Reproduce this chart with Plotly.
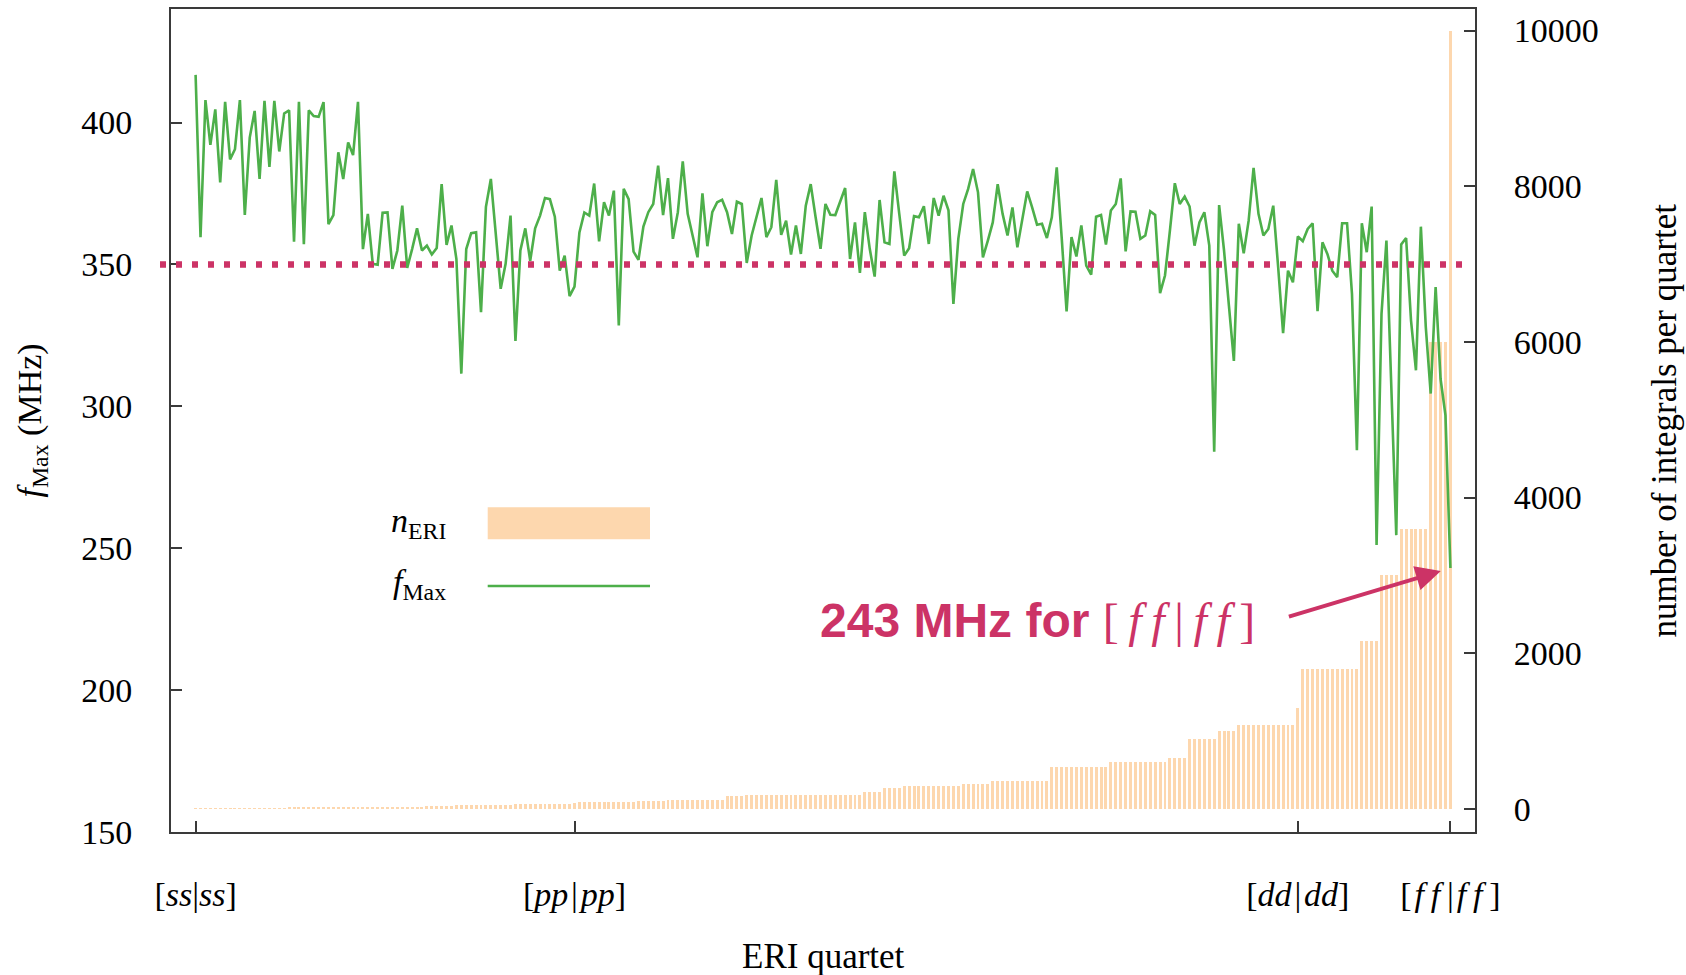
import numpy as np
import plotly.graph_objects as go

# ---- data ----
f_max = [
    416.8, 359.6, 407.9, 392.1, 404.6, 378.9, 407.3, 387.0, 390.6, 407.9,
    367.4, 394.7, 404.1, 380.1, 407.6, 384.4, 407.6, 389.8, 403.2, 404.3,
    358.0, 407.3, 357.1, 404.3, 402.3, 402.0, 407.2, 364.2, 367.4, 389.5,
    380.1, 393.0, 388.5, 407.3, 355.4, 367.8, 350.2, 349.9, 368.2, 368.3,
    348.4, 354.9, 370.7, 348.8, 355.4, 362.7, 354.9, 356.6, 353.5, 355.8,
    378.3, 356.9, 363.7, 351.9, 311.5, 355.4, 361.0, 361.3, 333.2, 370.3,
    380.1, 360.7, 341.4, 350.2, 367.2, 323.0, 354.9, 362.7, 351.3, 362.7,
    367.2, 373.4, 373.0, 366.8, 347.8, 353.1, 338.8, 342.2, 361.3, 368.3,
    367.2, 378.5, 358.1, 371.9, 367.2, 376.0, 328.5, 376.6, 373.0, 354.5,
    351.6, 363.3, 368.4, 371.3, 384.8, 367.4, 380.4, 359.0, 368.4, 386.3,
    367.8, 360.2, 352.5, 375.0, 356.4, 368.4, 371.9, 372.8, 368.4, 360.7,
    372.1, 371.3, 350.5, 360.2, 366.6, 373.4, 359.6, 363.1, 379.8, 360.4,
    365.4, 353.5, 363.7, 353.7, 370.7, 378.3, 366.6, 355.5, 371.3, 367.5,
    367.4, 371.9, 376.9, 351.9, 364.8, 347.0, 368.4, 355.5, 345.7, 372.7,
    357.8, 357.2, 382.8, 367.8, 353.1, 355.7, 367.0, 366.6, 370.5, 357.2,
    373.4, 367.2, 374.2, 369.1, 336.1, 359.0, 371.3, 376.6, 383.6, 375.4,
    352.5, 358.4, 364.8, 378.3, 367.8, 360.2, 370.1, 356.0, 366.0, 375.7,
    370.1, 364.0, 364.3, 359.3, 366.6, 384.2, 359.6, 333.4, 359.6, 352.8,
    363.7, 349.6, 346.4, 366.8, 367.4, 357.0, 369.0, 371.3, 380.3, 354.6,
    368.7, 368.6, 359.0, 360.2, 368.7, 367.4, 339.9, 346.1, 361.9, 378.6,
    371.3, 373.9, 370.4, 356.6, 364.8, 368.4, 356.6, 284.0, 370.9, 354.9,
    335.3, 316.0, 364.3, 353.9, 365.4, 384.0, 367.8, 360.2, 362.5, 370.7,
    349.0, 325.8, 347.8, 343.7, 359.9, 358.2, 362.5, 364.5, 333.5, 357.8,
    353.7, 347.8, 345.5, 364.5, 364.5, 339.6, 284.5, 364.5, 354.3, 370.4,
    251.1, 332.6, 358.4, 306.8, 254.6, 357.0, 359.3, 330.2, 312.7, 363.3,
    327.9, 304.5, 342.0, 309.7, 296.8, 243.0,
]

# number of integrals per quartet (value, how many consecutive quartets share it)
n_eri_levels = [1, 3, 6, 9, 10, 18, 27, 30, 36, 54, 60, 81, 90, 100, 108, 162,
                180, 216, 270, 300, 324, 360, 540, 600, 648, 900, 1000, 1080,
                1296, 1800, 2160, 3000, 3600, 6000, 10000]
n_eri_counts = [1, 4, 4, 6, 4, 12, 4, 12, 6, 12, 12, 1, 12, 6, 12, 4,
                24, 4, 4, 12, 6, 12, 12, 12, 4, 6, 4, 12,
                1, 12, 4, 4, 6, 4, 1]
n_eri = np.repeat(n_eri_levels, n_eri_counts).tolist()
quartet = list(range(len(f_max)))

HS = "\u200a"   # hair space
TS = "\u2009"   # thin space
tick_index = [0, 77, 224, 255]
tick_labels = [
    "[<i>ss</i>|<i>ss</i>]",
    "[<i>pp</i>" + HS + "|" + HS + "<i>pp</i>]",
    "[<i>dd</i>" + HS + "|" + HS + "<i>dd</i>]",
    "[" + HS + "<i>f" + TS + "f</i>" + TS + "|" + HS + "<i>f" + TS + "f</i>" + TS + "]",
]
threshold_mhz = 350

# ---- styling ----
PINK = "#cc3366"
GREEN = "#4daf4a"
PEACH = "#fdd7ae"
AX = "#3a3a3a"
SERIF = "Liberation Serif"

# plot area in pixels
L, R, T, B = 171, 1475, 9, 832
W, H = 1686, 975
def px(x):
    return (x - L) / (R - L)
def py(y):
    return (B - y) / (B - T)

fig = go.Figure()
fig.add_trace(go.Bar(x=quartet, y=n_eri, yaxis="y", width=0.6,
                     marker=dict(color=PEACH, line=dict(width=0)),
                     name="n_ERI", showlegend=False))
fig.add_trace(go.Scatter(x=quartet, y=f_max, yaxis="y2", mode="lines",
                         line=dict(color=GREEN, width=2.6),
                         name="f_Max", showlegend=False))

axis_common = dict(showgrid=False, zeroline=False, showline=True, linecolor=AX,
                   linewidth=2, ticks="inside", ticklen=11, tickwidth=2,
                   tickcolor=AX, automargin=False,
                   tickfont=dict(family=SERIF, size=34, color="black"))

fig.update_layout(
    width=W, height=H,
    margin=dict(l=L, r=W - R, t=T, b=H - B, pad=0),
    paper_bgcolor="white", plot_bgcolor="white",
    font=dict(family=SERIF, size=34, color="black"),
    bargap=0,
    xaxis=dict(range=[-5, 260], tickvals=tick_index, ticktext=tick_labels,
               mirror=True, ticklabelstandoff=31, **axis_common),
    yaxis=dict(side="right", range=[-297, 10277], tickvals=[0, 2000, 4000, 6000, 8000, 10000],
               tickformat="d", ticklabelstandoff=30, **axis_common),
    yaxis2=dict(side="left", overlaying="y", range=[150, 440],
                tickvals=[150, 200, 250, 300, 350, 400], tickformat="d",
                ticklabelstandoff=30, **axis_common),
)

shapes = [
    dict(type="line", xref="paper", yref="y2", x0=px(160), x1=px(1464),
         y0=threshold_mhz, y1=threshold_mhz, layer="above",
         line=dict(color=PINK, width=6.5, dash="6px,10px")),
    # legend symbols
    dict(type="rect", xref="paper", yref="paper", x0=px(487.7), x1=px(650),
         y0=py(539.3), y1=py(507.3), fillcolor=PEACH, line=dict(width=0), layer="above"),
    dict(type="line", xref="paper", yref="paper", x0=px(487.7), x1=px(650),
         y0=py(586), y1=py(586), line=dict(color=GREEN, width=2.6), layer="above"),
]
fig.update_layout(shapes=shapes)

ff_big = ("[" + TS + "<i>f" + TS + "f</i>" + TS + "|" + TS + "<i>f" + TS + "f</i>" + TS + "]")
annotations = [
    dict(text="<i>f</i><sub>Max</sub> (MHz)", xref="paper", yref="paper",
         x=px(31), y=0.5, textangle=-90, showarrow=False,
         xanchor="center", yanchor="middle", font=dict(size=34)),
    dict(text="number of integrals per quartet", xref="paper", yref="paper",
         x=px(1664), y=0.5, textangle=-90, showarrow=False,
         xanchor="center", yanchor="middle", font=dict(size=35)),
    dict(text="ERI quartet", xref="paper", yref="paper", x=0.5, y=py(956),
         showarrow=False, xanchor="center", yanchor="middle", font=dict(size=35)),
    dict(text="<i>n</i><sub>ERI</sub>", xref="paper", yref="paper", x=px(448), y=py(523),
         showarrow=False, xanchor="right", yanchor="middle", font=dict(size=34)),
    dict(text="<i>f</i><sub>Max</sub>", xref="paper", yref="paper", x=px(448), y=py(584),
         showarrow=False, xanchor="right", yanchor="middle", font=dict(size=34)),
    dict(text="<b>243 MHz for </b><span style='font-family:Liberation Serif'>" + ff_big + "</span>",
         xref="paper", yref="paper", x=px(818), y=py(620), showarrow=False,
         xanchor="left", yanchor="middle",
         font=dict(family="Liberation Sans", size=48, color=PINK)),
    dict(text="", xref="x", yref="y2", x=quartet[-1], y=f_max[-1],
         ax=-163, ay=49, showarrow=True, arrowhead=2, arrowsize=1.25,
         arrowwidth=4, arrowcolor=PINK, standoff=10),
]
fig.update_layout(annotations=annotations)

fig.write_html("out.html")
